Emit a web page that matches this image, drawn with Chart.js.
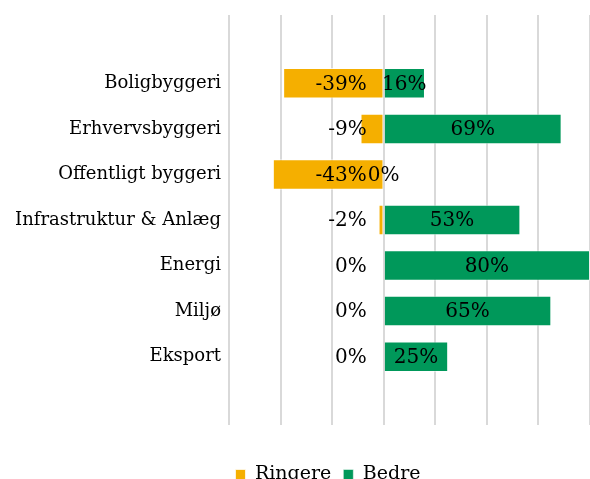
<!DOCTYPE html>
<html>
<head>
<meta charset="utf-8">
<script src="https://cdn.jsdelivr.net/npm/chart.js@4"></script>
<style>
  html, body { margin: 0; padding: 0; background: #fff; overflow: hidden; }
  #wrap { position: relative; width: 590px; height: 494px; }
</style>
</head>
<body>
<div id="wrap"><canvas id="chart"></canvas></div>
<script>
// kategorier (tomme pladser øverst og nederst som i originalen)
let categories = ['', 'Boligbyggeri', 'Erhvervsbyggeri', 'Offentligt byggeri', 'Infrastruktur & Anlæg', 'Energi', 'Miljø', 'Eksport', '']
let ringere = [null, -39, -9, -43, -2, 0, 0, 0, null]
let bedre = [null, 16, 69, 0, 53, 80, 65, 25, null]
let seriesNames = ['Ringere', 'Bedre']
let xMin = -60
let xMax = 80
let xStep = 20

let fontFamily = "'DejaVu Serif', 'Liberation Serif', serif"
let orange = '#F5AF00'
let green = '#00985A'

// datalabels (egen lille plugin, ingen netværk)
const valueLabels = {
    id: 'valueLabels',
    afterDatasetsDraw(chart) {
        const ctx = chart.ctx
        const xScale = chart.scales.x
        const yScale = chart.scales.y
        const zero = xScale.getPixelForValue(0)
        ctx.save()
        ctx.font = '20px ' + fontFamily
        ctx.fillStyle = '#000'
        ctx.textBaseline = 'middle'
        chart.data.datasets.forEach(function(ds, di){
            ds.data.forEach(function(v, i){
                if (v === null) return
                const y = yScale.getPixelForValue(i) + 1
                if (di === 0) {
                    ctx.textAlign = 'right'
                    ctx.fillText(v + '%', zero - 17, y)
                } else {
                    ctx.textAlign = 'center'
                    ctx.fillText(v + '%', xScale.getPixelForValue(v / 2), y)
                }
            })
        })
        ctx.restore()
    }
}

// flyt legenden lidt til højre (som i Excel-udgaven)
const legendShift = {
    id: 'legendShift',
    afterLayout(chart) {
        chart.legend.left += 33
        chart.legend.right += 33
    }
}

const ctx = document.getElementById('chart').getContext('2d')
new Chart(ctx, {
    type: 'bar',
    data: {
        labels: categories,
        datasets: [
            {
                label: seriesNames[0],
                data: ringere,
                backgroundColor: orange,
                borderColor: 'rgba(255,255,255,0.7)',
                borderWidth: 1,
                categoryPercentage: 1,
                barPercentage: 0.67
            },
            {
                label: seriesNames[1],
                data: bedre,
                backgroundColor: green,
                borderColor: 'rgba(255,255,255,0.5)',
                borderWidth: 1,
                categoryPercentage: 1,
                barPercentage: 0.67
            }
        ]
    },
    options: {
        indexAxis: 'y',
        responsive: true,
        maintainAspectRatio: false,
        animation: false,
        layout: { padding: { top: 15, left: 0, right: 0, bottom: 0 } },
        plugins: {
            legend: {
                position: 'bottom',
                labels: {
                    boxWidth: 10,
                    boxHeight: 10,
                    padding: 12,
                    color: '#000',
                    font: { family: fontFamily, size: 19 }
                }
            },
            tooltip: { enabled: false }
        },
        scales: {
            x: {
                stacked: true,
                min: xMin,
                max: xMax,
                ticks: { stepSize: xStep, display: false },
                grid: { color: '#d9d9d9', lineWidth: 2, drawTicks: false },
                border: { display: false },
                afterFit: function(s) { s.height = 28 }
            },
            y: {
                stacked: true,
                grid: { display: false },
                border: { display: false },
                ticks: {
                    color: '#000',
                    padding: 0,
                    autoSkip: false,
                    font: { family: fontFamily, size: 18 }
                },
                afterFit: function(s) { s.width = 229 }
            }
        }
    },
    plugins: [valueLabels, legendShift]
})
</script>
</body>
</html>
